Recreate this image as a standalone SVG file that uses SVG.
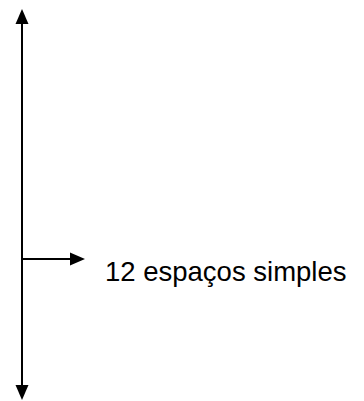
<svg xmlns="http://www.w3.org/2000/svg" width="364" height="401" viewBox="0 0 364 401">
<style>
.ln{stroke:#000;stroke-width:2;fill:none}
.hd{fill:#000}
.lbl{font-family:"Liberation Sans",Arial,sans-serif;font-size:27.5px;fill:#000}
</style>
<rect width="364" height="401" fill="#fff"/>
<g id="connectors">
<line class="ln" x1="22" y1="22" x2="22" y2="387"/>
<polygon class="hd" points="22,9 28.5,24 15.5,24"/>
<polygon class="hd" points="22,400 28.5,385 15.5,385"/>
<line class="ln" x1="22" y1="259" x2="72" y2="259"/>
<polygon class="hd" points="85,259 70,252.5 70,265.5"/>
</g>
<g id="label">
<text class="lbl" x="105" y="281">12 espaços simples</text>
</g>
</svg>
